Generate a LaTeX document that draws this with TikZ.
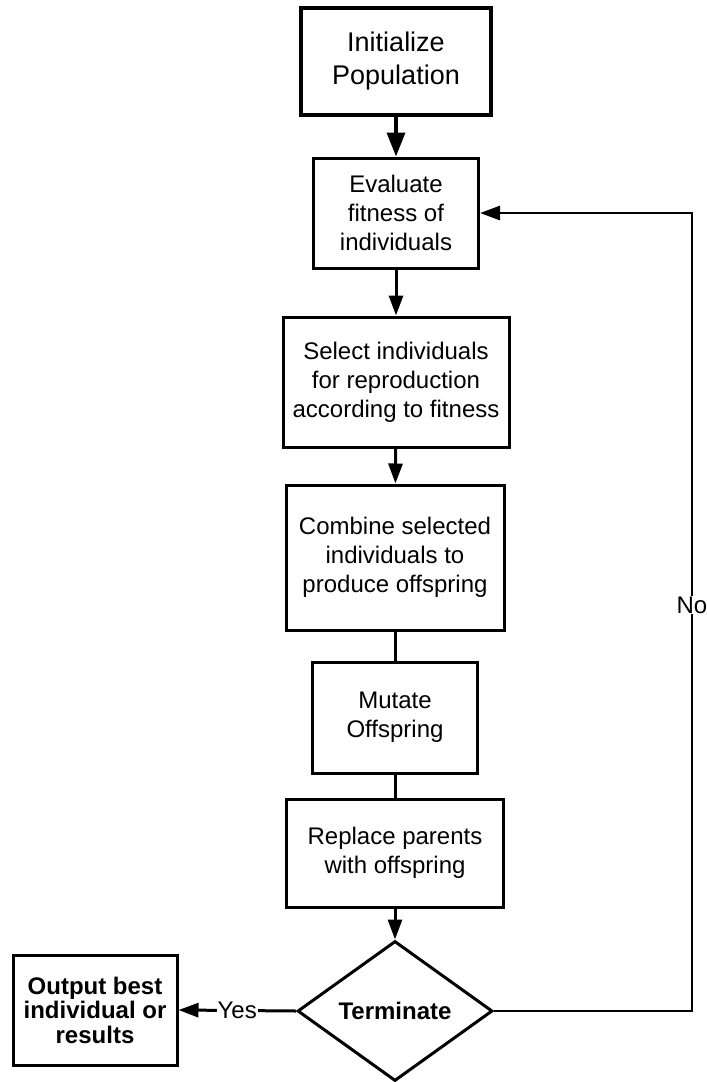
\documentclass[tikz,border=0pt]{standalone}
\usepackage{fontspec}
\setmainfont{Liberation Sans}
\usetikzlibrary{arrows.meta,shapes.geometric}
\begin{document}
\begin{tikzpicture}[x=1pt,y=-1pt,
  stepbox/.style={draw, line width=3pt, align=center, inner sep=0pt,
    font=\fontsize{24}{29}\selectfont},
  decision/.style={draw, diamond, aspect=1.39, line width=3pt, inner sep=0pt,
    minimum width=195pt, minimum height=140pt,
    font=\fontsize{24}{29}\selectfont\bfseries},
  flow/.style={line width=3pt, -{Triangle[length=20pt,width=14pt]}},
  plain/.style={line width=3pt},
  lbl/.style={fill=white, inner sep=1pt, font=\fontsize{24}{29}\selectfont}]
\useasboundingbox[fill=white] (0,0) rectangle (707,1082);

% main column of steps
\node[stepbox, line width=4.5pt, minimum width=190pt, minimum height=107pt,
  font=\fontsize{27}{33}\selectfont] (init) at (396,61.5) {Initialize\\Population};
\node[stepbox, minimum width=165pt, minimum height=110pt] (eval) at (396,213)
  {Evaluate\\fitness of\\individuals};
\node[stepbox, minimum width=226pt, minimum height=130pt] (sel) at (396,382)
  {Select individuals\\for reproduction\\according to fitness};
\node[stepbox, minimum width=218pt, minimum height=145pt] (comb) at (395,557.5)
  {Combine selected\\individuals to\\produce offspring};
\node[stepbox, minimum width=165pt, minimum height=111pt] (mut) at (395,717.5)
  {Mutate\\Offspring};
\node[stepbox, minimum width=217pt, minimum height=108pt] (repl) at (395,853)
  {Replace parents\\with offspring};
\node[decision] (term) at (395,1011) {Terminate};
\node[stepbox, minimum width=164pt, minimum height=110pt,
  font=\fontsize{24}{24.5}\selectfont\bfseries] (out) at (95,1010)
  {Output best\\individual or\\results};

% connectors
\draw[flow, line width=3.7pt, -{Triangle[length=24pt,width=18pt]}] (init) -- (eval);
\draw[flow] (eval) -- (sel);
\draw[flow] (sel) -- (comb);
\draw[plain] (comb) -- (mut);
\draw[plain] (mut) -- (repl);
\draw[flow] (repl) -- (term);
\draw[flow] (term.west) -- node[lbl] {Yes} (out.east);

% loop back when not finished
\coordinate (loop) at (692,1011);
\draw[flow, line width=2.8pt] (term.east) -- (loop) |- (eval.east);
\node[lbl] at (692,605) {No};
\end{tikzpicture}
\end{document}
